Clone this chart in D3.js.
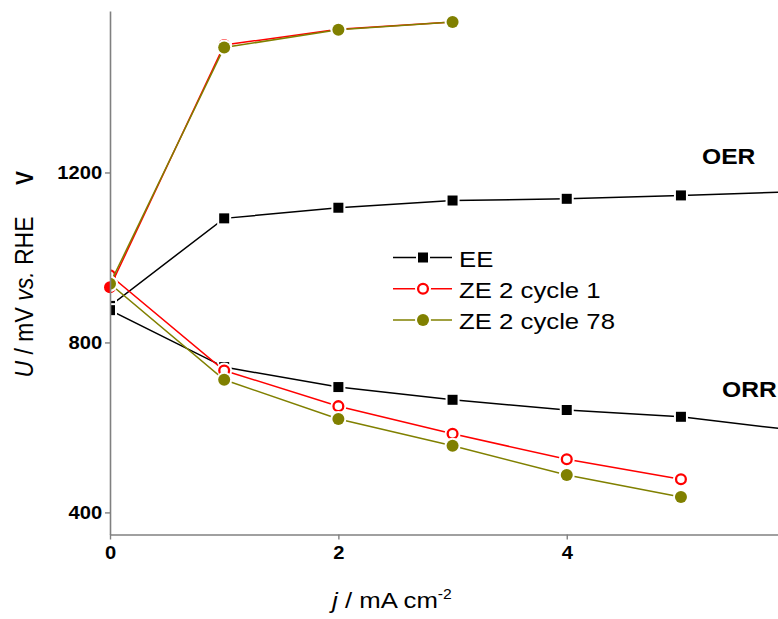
<!DOCTYPE html>
<html>
<head>
<meta charset="utf-8">
<script src="https://cdn.jsdelivr.net/npm/d3@7"></script>
<style>
  body { margin: 0; background: #fff; }
  svg { display: block; font-family: "Liberation Sans", Arial, sans-serif; }
</style>
</head>
<body>
<svg id="chart" width="778" height="619"></svg>
<script>
// values (j in mA cm-2, U in mV vs. RHE)
const jEE = [0, 1, 2, 3, 4, 5, 6];
const eeOER = [886, 1092, 1117, 1134, 1138, 1146, 1155];
const eeORR = [876, 742, 695, 665, 641, 625, 593];
const jZeOER = [0, 1, 2, 3];
const ze1OER = [930, 1500, 1537, 1554];
const ze78OER = [938, 1494, 1536, 1554];
const jZeORR = [0, 1, 2, 3, 4, 5];
const ze1ORR = [958, 734, 650, 585, 525, 478];
const ze78ORR = [938, 712, 620, 557, 488, 436];
const xTicks = [0, 2, 4];
const yTicks = [400, 800, 1200];
const legendLabels = ["EE", "ZE 2 cycle 1", "ZE 2 cycle 78"];
const branchLabels = ["OER", "ORR"];

const SX = 1.12; // the original picture is a bit wider than tall, text too
const axisColor = "#808080";
const colors = { ee: "#000000", ze1: "#ff0000", ze78: "#808000" };

const margin = { top: 11, left: 110 };
const width = 778 - margin.left;
const height = 534.5 - margin.top;

const svg = d3.select("#chart");

const x = d3.scaleLinear().domain([0, 5.85]).range([margin.left, margin.left + width]);
const y = d3.scaleLinear().domain([348, 1580]).range([margin.top + height, margin.top]);

svg.append("clipPath").attr("id", "plotClip")
  .append("rect")
  .attr("x", margin.left).attr("y", 0)
  .attr("width", width).attr("height", margin.top + height);

const line = d3.line().x(d => x(d[0])).y(d => y(d[1]));

function drawMarker(g, cx, cy, kind, color) {
  if (kind === "square") {
    g.append("rect").attr("x", cx - 7).attr("y", cy - 7).attr("width", 14).attr("height", 14).attr("fill", "#fff");
    g.append("rect").attr("x", cx - 5).attr("y", cy - 5).attr("width", 10).attr("height", 10).attr("fill", color);
  } else if (kind === "open") {
    g.append("circle").attr("cx", cx).attr("cy", cy).attr("r", 8).attr("fill", "#fff");
    g.append("circle").attr("cx", cx).attr("cy", cy).attr("r", 4.9)
      .attr("fill", "#fff").attr("stroke", color).attr("stroke-width", 2.3);
  } else {
    g.append("circle").attr("cx", cx).attr("cy", cy).attr("r", 8).attr("fill", "#fff");
    g.append("circle").attr("cx", cx).attr("cy", cy).attr("r", 6).attr("fill", color);
  }
}

function drawSeries(xs, ys, color, kind, clipped) {
  const pts = xs.map((v, i) => [v, ys[i]]);
  const g = svg.append("g");
  if (clipped) g.attr("clip-path", "url(#plotClip)");
  g.append("path")
    .attr("d", line(pts))
    .attr("fill", "none")
    .attr("stroke", color)
    .attr("stroke-width", 1.5);
  pts.forEach(p => drawMarker(g, x(p[0]), y(p[1]), kind, color));
}

// draw order: EE, cycle 1, cycle 78 on top
drawSeries(jEE, eeOER, colors.ee, "square", true);
drawSeries(jEE, eeORR, colors.ee, "square", true);
drawSeries(jZeORR, ze1ORR, colors.ze1, "open", true);
drawSeries(jZeOER, ze1OER, colors.ze1, "filled", false);
drawSeries(jZeOER, ze78OER, colors.ze78, "filled", true);
drawSeries(jZeORR, ze78ORR, colors.ze78, "filled", true);

// axes
const xAxisG = svg.append("g")
  .attr("transform", `translate(0,${margin.top + height})`)
  .call(d3.axisBottom(x).tickValues(xTicks).tickSize(5).tickSizeOuter(0).tickPadding(7).tickFormat(d3.format("d")));

const yAxisG = svg.append("g")
  .attr("transform", `translate(${margin.left},0)`)
  .call(d3.axisLeft(y).tickValues(yTicks).tickSize(5).tickSizeOuter(0).tickFormat(d3.format("d")));

[xAxisG, yAxisG].forEach(a => {
  a.select(".domain").attr("stroke", axisColor).attr("stroke-width", 1.6);
  a.selectAll(".tick line").attr("stroke", axisColor).attr("stroke-width", 1.4);
  a.selectAll(".tick text")
    .attr("fill", "#000")
    .style("font-family", "'Liberation Sans', Arial, sans-serif")
    .style("font-size", "18px")
    .style("font-weight", "bold")
    .attr("transform", `scale(${SX},1)`);
});
yAxisG.selectAll(".tick text").attr("x", -7);

// axis titles
const xt = svg.append("text")
  .attr("transform", `translate(332,608) scale(${SX},1)`)
  .style("font-size", "23px")
  .attr("fill", "#000");
xt.append("tspan").style("font-style", "italic").text("j");
xt.append("tspan").text(" / mA cm");
xt.append("tspan").attr("dy", -9).style("font-size", "14px").text("-2");

const yt = svg.append("text")
  .attr("transform", `translate(33,297) scale(${SX},1) rotate(-90)`)
  .attr("text-anchor", "middle")
  .style("font-size", "23px")
  .attr("fill", "#000");
yt.append("tspan").style("font-style", "italic").text("U");
yt.append("tspan").text(" / mV ");
yt.append("tspan").style("font-style", "italic").text("vs.");
yt.append("tspan").text(" RHE");

svg.append("text")
  .attr("transform", `translate(33,178) scale(${SX},1) rotate(-90)`)
  .attr("text-anchor", "middle")
  .style("font-size", "21px")
  .style("font-weight", "bold")
  .attr("fill", "#000")
  .text("V");

// branch labels
const branchPos = [[702, 164], [722, 397]];
branchLabels.forEach((t, i) => {
  svg.append("text")
    .attr("transform", `translate(${branchPos[i][0]},${branchPos[i][1]}) scale(${SX},1)`)
    .style("font-size", "22px")
    .style("font-weight", "bold")
    .attr("fill", "#000")
    .text(t);
});

// legend
const legend = svg.append("g").attr("transform", "translate(393,257.5)");
const legendKinds = ["square", "open", "filled"];
const legendColors = [colors.ee, colors.ze1, colors.ze78];
legendLabels.forEach((label, i) => {
  const row = legend.append("g").attr("transform", `translate(0,${i * 31.2})`);
  row.append("line").attr("x1", 0).attr("x2", 59).attr("y1", 0).attr("y2", 0)
    .attr("stroke", legendColors[i]).attr("stroke-width", 1.5);
  drawMarker(row, 30, 0, legendKinds[i], legendColors[i]);
  row.append("text")
    .attr("transform", `translate(66,9) scale(${SX},1)`)
    .style("font-size", "23px")
    .attr("fill", "#000")
    .text(label);
});
</script>
</body>
</html>
